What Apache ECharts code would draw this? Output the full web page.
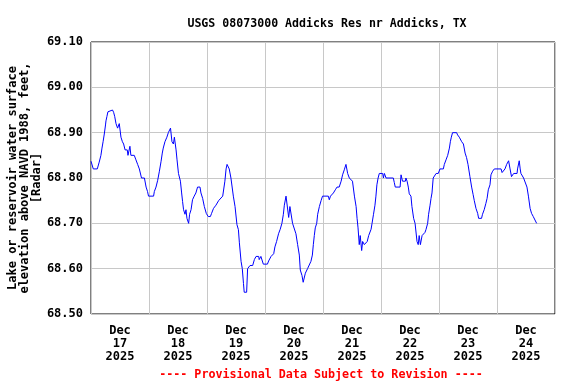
<!DOCTYPE html>
<html><head><meta charset="utf-8">
<script src="https://cdn.jsdelivr.net/npm/echarts@6/dist/echarts.min.js"></script>
<style>html,body{margin:0;padding:0;background:#fff}#c{width:576px;height:384px}</style>
</head><body><div id="c"></div>
<script>
var title = 'USGS 08073000 Addicks Res nr Addicks, TX';
var yName = 'Lake or reservoir water surface\nelevation above NAVD 1988, feet,\n[Radar]';
var footer = '---- Provisional Data Subject to Revision ----';
var dayLabels = ['Dec\n17\n2025','Dec\n18\n2025','Dec\n19\n2025','Dec\n20\n2025','Dec\n21\n2025','Dec\n22\n2025','Dec\n23\n2025','Dec\n24\n2025'];
// hours since Dec 17 2025 00:00
var hours = [0,0.95,2.6,3.4,4.1,4.55,5.0,5.5,6.0,6.2,6.6,7.0,7.3,8.9,9.35,9.8,10.35,11.0,11.7,12.4,13.0,13.5,14.1,15.0,15.3,16.1,16.5,17.9,18.6,19.3,20.0,20.9,22.1,22.8,23.4,23.8,25.9,26.2,26.9,27.6,28.3,29.0,29.5,29.9,30.6,31.4,32.0,32.9,33.5,34.1,34.5,35.2,35.6,36.2,37.0,37.5,37.9,38.3,38.9,39.3,39.7,40.4,40.8,41.4,42.0,42.7,43.4,44.1,45.1,45.5,46.2,46.9,47.7,48.5,49.4,49.9,50.7,51.7,52.8,54.5,55.4,55.9,56.3,57.2,57.9,58.9,59.6,60.4,61.0,61.4,62.1,62.6,63.1,63.4,64.4,64.8,65.8,66.9,67.6,68.3,69.4,69.6,70.3,71.3,73.0,73.5,74.5,75.6,76.1,76.8,77.6,78.3,79.0,79.6,80.0,80.7,81.4,81.8,82.3,83.4,84.1,84.8,85.5,86.2,86.6,87.3,87.8,88.7,89.6,90.3,91.0,91.6,92.0,92.4,92.8,93.4,93.8,94.5,95.2,95.8,98.2,98.6,99.1,100.3,101.1,101.8,102.7,103.5,104.1,104.8,105.5,106.2,106.9,107.6,108.2,109.0,109.7,110.1,110.5,111.0,111.4,112.0,112.4,113.1,113.8,114.3,114.9,115.9,116.3,116.9,117.5,117.9,118.3,118.8,119.3,120.7,121.0,121.4,122.1,125.1,125.5,125.9,127.9,128.3,128.9,130.1,130.3,130.8,131.3,131.7,132.4,132.8,133.5,134.1,134.7,134.9,135.4,135.8,136.3,137.0,137.6,138.2,138.6,139.3,139.7,140.3,140.7,141.1,141.6,142.8,143.7,144.4,145.8,146.2,146.9,147.6,148.3,148.7,149.1,149.6,151.3,151.7,152.4,153.4,154.1,154.8,155.4,156.0,156.8,157.5,158.1,158.6,159.3,160.0,160.4,161.6,162.0,162.7,163.4,163.9,164.4,165.1,165.5,166.2,166.9,169.7,170.1,170.6,171.3,172.0,172.8,173.4,174.0,174.9,176.3,176.5,177.2,177.6,177.9,178.6,179.0,179.7,180.4,181.0,181.7,182.3,183.0,183.7,184.4];
var elev = [68.837,68.82,68.82,68.835,68.85,68.866,68.88,68.897,68.917,68.926,68.936,68.946,68.95,68.95,68.945,68.936,68.92,68.91,68.92,68.89,68.88,68.875,68.862,68.862,68.85,68.87,68.85,68.85,68.84,68.83,68.82,68.80,68.80,68.78,68.77,68.76,68.76,68.77,68.78,68.795,68.815,68.837,68.855,68.866,68.88,68.89,68.90,68.91,68.88,68.875,68.89,68.862,68.84,68.81,68.793,68.767,68.748,68.73,68.72,68.73,68.711,68.70,68.72,68.73,68.752,68.76,68.767,68.78,68.78,68.767,68.755,68.737,68.722,68.715,68.715,68.722,68.733,68.74,68.75,68.76,68.793,68.82,68.83,68.82,68.80,68.76,68.737,68.697,68.686,68.657,68.616,68.60,68.567,68.548,68.548,68.60,68.607,68.607,68.62,68.627,68.627,68.62,68.627,68.61,68.61,68.617,68.627,68.633,68.648,68.66,68.677,68.687,68.70,68.72,68.74,68.76,68.76,68.713,68.737,68.70,68.70,68.677,68.653,68.63,68.597,68.585,68.57,68.59,68.60,68.60,68.616,68.63,68.653,68.673,68.69,68.70,68.72,68.737,68.75,68.76,68.76,68.752,68.76,68.767,68.774,68.78,68.78,68.793,68.807,68.818,68.83,68.81,68.80,68.80,68.793,68.76,68.737,68.711,68.69,68.653,68.673,68.64,68.66,68.653,68.653,68.66,68.673,68.687,68.70,68.72,68.74,68.76,68.785,68.80,68.81,68.81,68.80,68.81,68.80,68.80,68.79,68.78,68.78,68.807,68.793,68.793,68.80,68.793,68.78,68.765,68.76,68.737,68.711,68.70,68.70,68.66,68.653,68.673,68.653,68.673,68.673,68.68,68.686,68.70,68.72,68.74,68.755,68.767,68.80,68.81,68.81,68.82,68.82,68.83,68.84,68.85,68.866,68.88,68.89,68.90,68.90,68.895,68.89,68.88,68.875,68.855,68.845,68.83,68.803,68.78,68.764,68.75,68.733,68.722,68.711,68.711,68.72,68.73,68.744,68.755,68.774,68.785,68.807,68.815,68.82,68.82,68.812,68.812,68.82,68.83,68.838,68.82,68.803,68.81,68.81,68.82,68.838,68.82,68.81,68.81,68.80,68.80,68.78,68.76,68.733,68.722,68.715,68.711,68.70];
var yMin = 68.5, yMax = 69.1, yStep = 0.1;
var xMax = 192;

var font = 'DejaVu Sans Mono';
var data = hours.map(function(h, i){ return [h, elev[i]]; });
var chart = echarts.init(document.getElementById('c'), null, {renderer: 'canvas'});
chart.setOption({
  animation: false,
  backgroundColor: '#ffffff',
  title: {
    text: title, left: 322, top: 13, textAlign: 'center',
    textStyle: {fontFamily: font, fontWeight: 'bold', fontSize: 11.6, color: '#000'}
  },
  graphic: [{
    type: 'text', x: 321, y: 368.5,
    style: {text: footer, fill: '#ff0000', font: 'bold 11.7px "DejaVu Sans Mono"', textAlign: 'center'}
  }],
  grid: {left: 91, right: 21, top: 42, bottom: 70, outerBoundsMode: 'none', containLabel: false,
    show: true, borderColor: '#000', borderWidth: 1, backgroundColor: 'transparent'},
  xAxis: [{
    type: 'value', min: 0, max: xMax, interval: 24,
    axisLine: {show: false}, axisTick: {show: false}, axisLabel: {show: false},
    splitLine: {show: true, lineStyle: {color: '#c8c8c8', width: 1}}
  }, {
    type: 'value', min: 0, max: xMax, interval: 12, position: 'bottom',
    axisLine: {show: false}, axisTick: {show: false}, splitLine: {show: false},
    axisLabel: {
      show: true, margin: 10, lineHeight: 13,
      fontFamily: font, fontWeight: 'bold', fontSize: 12, color: '#000',
      showMinLabel: false, showMaxLabel: false,
      formatter: function(v){ return (v % 24 === 12) ? dayLabels[(v - 12) / 24] : ''; }
    }
  }],
  yAxis: {
    type: 'value', min: yMin, max: yMax, interval: yStep,
    name: yName, nameLocation: 'middle', nameRotate: 90, nameGap: 48, nameMoveOverlap: false,
    nameTextStyle: {fontFamily: font, fontWeight: 'bold', fontSize: 12, color: '#000', lineHeight: 12, align: 'center'},
    axisLine: {show: false}, axisTick: {show: false},
    axisLabel: {margin: 8, fontFamily: font, fontWeight: 'bold', fontSize: 12, color: '#000',
      formatter: function(v){ return v.toFixed(2); }},
    splitLine: {show: true, lineStyle: {color: '#c8c8c8', width: 1}}
  },
  series: [{
    type: 'line', xAxisIndex: 0, data: data, showSymbol: false,
    lineStyle: {color: '#0000ff', width: 1}, itemStyle: {color: '#0000ff'}
  }]
});
</script></body></html>
